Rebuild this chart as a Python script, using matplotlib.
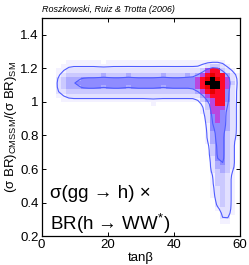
import numpy as np
import matplotlib
matplotlib.use('Agg')
import matplotlib.pyplot as plt
from matplotlib.colors import LinearSegmentedColormap

plt.rcParams['font.family'] = ['Liberation Sans', 'DejaVu Sans']
plt.rcParams['mathtext.fontset'] = 'custom'
plt.rcParams['mathtext.rm'] = 'Liberation Sans'
plt.rcParams['mathtext.it'] = 'Liberation Sans:italic'

# binned posterior density (levels 0-9),
# tanb bins of 1.5 from 0 to 60, ratio bins of 0.025, top row = 1.275-1.3
density_rows = [
    "0000000000 0000000000 0000000000 0000000000",
    "0000000000 0000000000 0000000000 0000000000",
    "0000011111 1101111111 1111111111 1111111000",
    "0000111111 1111111111 1111111111 1112332100",
    "0001122222 2222222222 2222222222 2236773210",
    "0001233333 3343333433 3333433334 3467877421",
    "0002344455 5555555555 5555555555 5678987621",
    "0002344555 5555555555 5555555555 5679997631",
    "0002344455 5545555455 5555455555 5678997621",
    "0002233333 3333333333 3333333333 3467877521",
    "0001122222 2222222222 2222222222 2246777521",
    "0000111111 1111111111 1111111111 1135677521",
    "0000000000 0000000000 0010000000 0013677421",
    "0000000000 0000000000 0000000000 0013666421",
    "0000000000 0000000000 0000000000 0012665421",
    "0000000000 0000000000 0000000000 0002565421",
    "0000000000 0000000000 0000000000 0002565421",
    "0000000000 0000000000 0000000000 0001555421",
    "0000000000 0000000000 0000000000 0001555421",
    "0000000000 0000000000 0000000000 0001455321",
    "0000000000 0000000000 0000000000 0001455321",
    "0000000000 0000000000 0000000000 0001455320",
    "0000000000 0000000000 0000000000 0000355320",
    "0000000000 0000000000 0000000000 0000355320",
    "0000000000 0000000000 0000000000 0000355320",
    "0000000000 0000000000 0000000000 0000255320",
    "0000000000 0000000000 0000000000 0000245320",
    "0000000000 0000000000 0000000000 0000244320",
    "0000000000 0000000000 0000000000 0000234310",
    "0000000000 0000000000 0000000000 0000133210",
    "0000000000 0000000000 0000000000 0000133210",
    "0000000000 0000000000 0000000000 0000133210",
    "0000000000 0000000000 0000000000 0000123210",
    "0000000000 0000000000 0000000000 0000123210",
    "0000000000 0000000000 0000000000 0000123210",
    "0000000000 0000000000 0000000000 0000023210",
    "0000000000 0000000000 0000000000 0000023210",
    "0000000000 0000000000 0000000000 0000012210",
    "0000000000 0000000000 0000000000 0000002210",
    "0000000000 0000000000 0000000000 0000002200",
    "0000000000 0000000000 0000000000 0000001100",
    "0000000000 0000000000 0000000000 0000000000",
]
contour_levels = [1.3, 4.2]   # 95% and 68% regions

x_ticks = [0, 20, 40, 60]
y_ticks = [0.2, 0.4, 0.6, 0.8, 1.0, 1.2, 1.4]
y_tick_labels = ['0.2', '0.4', '0.6', '0.8', '1', '1.2', '1.4']

Z = np.array([[int(c) for c in r.replace(' ', '')] for r in density_rows[::-1]], dtype=float)
ny, nx = Z.shape
x_edges = np.linspace(0, 60, nx + 1)
y_edges = np.linspace(1.3 - 0.025 * ny, 1.3, ny + 1)
xc = 0.5 * (x_edges[:-1] + x_edges[1:])
yc = 0.5 * (y_edges[:-1] + y_edges[1:])

# light 1-2-1 smoothing so the credible contours are not staircases
k = np.array([1, 2, 1]) / 4
Zs = np.apply_along_axis(lambda r: np.convolve(r, k, mode='same'), 1, Z)
Zs = np.apply_along_axis(lambda c: np.convolve(c, k, mode='same'), 0, Zs)

cmap = LinearSegmentedColormap.from_list('post', [
    (0.0, '#ffffff'), (1 / 9, '#f3f1ff'), (2 / 9, '#e2e0ff'), (3 / 9, '#cbc9ff'),
    (4 / 9, '#adabff'), (5 / 9, '#8f8dff'), (6 / 9, '#b848e0'), (7 / 9, '#ff0a2a'),
    (8 / 9, '#e80000'), (1.0, '#000000')])

fig = plt.figure(figsize=(2.49, 2.65), dpi=100)
ax = fig.add_axes([0.167, 0.109, 0.797, 0.823])

ax.pcolormesh(x_edges, y_edges, Z, cmap=cmap, vmin=0, vmax=9,
              shading='flat', edgecolors='none', antialiased=False)
ax.contour(xc, yc, Zs, levels=contour_levels, colors='#4f5cff', linewidths=0.8)

ax.set_xlim(0, 60)
ax.set_ylim(0.2, 1.5)
ax.set_xticks(x_ticks)
ax.set_yticks(y_ticks)
ax.set_yticklabels(y_tick_labels)
ax.tick_params(direction='in', length=3, width=0.7, top=True, right=True,
               labelsize=9.5, pad=2)
for s in ax.spines.values():
    s.set_linewidth(0.9)

ax.set_xlabel('tan\u03b2', fontsize=9.5, labelpad=1)
ax.set_ylabel(r'(σ BR)$_{\rm CMSSM}$/(σ BR)$_{\rm SM}$', fontsize=9.5, labelpad=1)

ax.text(2.5, 0.455, 'σ(gg \u2192 h) ×', fontsize=13.5, ha='left', va='center')
ax.text(2.5, 0.27, 'BR(h \u2192 WW$^{*}$)', fontsize=13.5, ha='left', va='center')

fig.text(0.17, 0.965, 'Roszkowski, Ruiz & Trotta (2006)', fontsize=6.5,
         style='italic', ha='left', va='center')

fig.savefig('out.png', dpi=100)
